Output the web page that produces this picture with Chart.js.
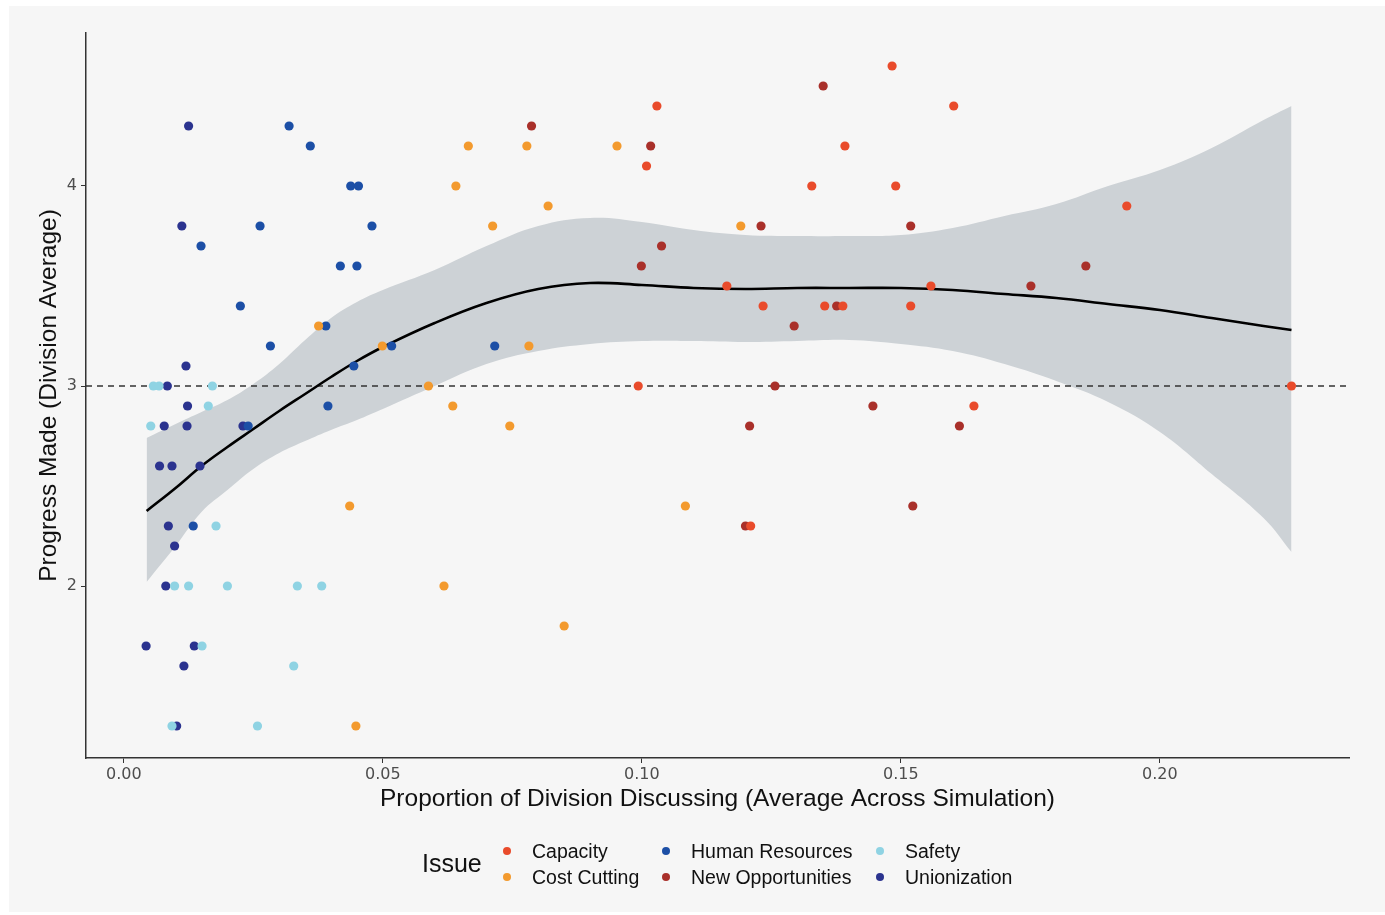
<!DOCTYPE html>
<html>
<head>
<meta charset="utf-8">
<script src="https://cdn.jsdelivr.net/npm/chart.js@4.4.1/dist/chart.umd.min.js"></script>
<style>
  html, body { margin: 0; padding: 0; background: #ffffff; }
  #panel { position: absolute; left: 9px; top: 6px; width: 1376px; height: 906px; background: #f6f6f6; }
  #chart { position: absolute; left: 0; top: 0; }
  #legend { position: absolute; left: 0; top: 0; font-family: "Liberation Sans", Arial, sans-serif; color: #111; }
  .leg-title { position: absolute; left: 422px; top: 849px; font-size: 25px; }
  .leg-item { position: absolute; font-size: 19.5px; white-space: nowrap; line-height: 22px; }
  .leg-dot { position: absolute; width: 8px; height: 8px; border-radius: 50%; }
</style>
</head>
<body>
<div id="panel"></div>
<canvas id="chart" width="1385" height="915"></canvas>
<div id="legend"></div>
<script>
// axis ranges and ticks
const xMin = -0.0073, xMax = 0.2365;
const yMin = 1.14, yMax = 4.765;
const xTicks = [0, 0.05, 0.10, 0.15, 0.20];
const yTicks = [2, 3, 4];
const refLine = 3;

// issues (legend order)
const issues = ["Capacity", "Cost Cutting", "Human Resources", "New Opportunities", "Safety", "Unionization"];
const issueColors = ["#e94b2b", "#f39a2e", "#1c4fa6", "#a9302a", "#8fd3e3", "#2b338f"];

// points, [proportion, progress]
const capacityPts = [[0.1483,4.6],[0.1029,4.4],[0.1602,4.4],[0.1392,4.2],[0.1009,4.1],[0.1328,4.0],[0.1490,4.0],
  [0.1936,3.9],[0.1164,3.5],[0.1558,3.5],[0.1234,3.4],[0.1353,3.4],[0.1388,3.4],[0.1519,3.4],[0.0993,3.0],
  [0.2254,3.0],[0.1641,2.9],[0.1210,2.3]];
const costCuttingPts = [[0.1191,3.8],[0.0665,4.2],[0.0778,4.2],[0.0952,4.2],[0.0641,4.0],[0.0819,3.9],[0.0712,3.8],
  [0.0499,3.2],[0.0782,3.2],[0.0376,3.3],[0.0588,3.0],[0.0635,2.9],[0.0745,2.8],[0.1084,2.4],[0.0436,2.4],
  [0.0618,2.0],[0.0850,1.8],[0.0448,1.3]];
const humanResPts = [[0.0319,4.3],[0.0360,4.2],[0.0438,4.0],[0.0453,4.0],[0.0263,3.8],[0.0479,3.8],[0.0149,3.7],
  [0.0418,3.6],[0.0450,3.6],[0.0225,3.4],[0.0390,3.3],[0.0283,3.2],[0.0517,3.2],[0.0716,3.2],[0.0444,3.1],
  [0.0394,2.9],[0.0240,2.8],[0.0134,2.3]];
const newOppPts = [[0.1350,4.5],[0.0787,4.3],[0.1017,4.2],[0.1230,3.8],[0.1519,3.8],[0.1038,3.7],[0.0999,3.6],
  [0.1857,3.6],[0.1751,3.5],[0.1376,3.4],[0.1294,3.3],[0.1257,3.0],[0.1446,2.9],[0.1208,2.8],[0.1613,2.8],
  [0.1523,2.4],[0.1200,2.3]];
const safetyPts = [[0.0057,3.0],[0.0068,3.0],[0.0171,3.0],[0.0163,2.9],[0.0052,2.8],[0.0178,2.3],[0.0098,2.0],
  [0.0125,2.0],[0.0200,2.0],[0.0335,2.0],[0.0382,2.0],[0.0151,1.7],[0.0328,1.6],[0.0093,1.3],[0.0258,1.3]];
const unionPts = [[0.0125,4.3],[0.0112,3.8],[0.0120,3.1],[0.0084,3.0],[0.0123,2.9],[0.0078,2.8],[0.0122,2.8],
  [0.0230,2.8],[0.0069,2.6],[0.0093,2.6],[0.0147,2.6],[0.0086,2.3],[0.0098,2.2],[0.0081,2.0],[0.0043,1.7],
  [0.0136,1.7],[0.0116,1.6],[0.0102,1.3]];
const issuePts = [capacityPts, costCuttingPts, humanResPts, newOppPts, safetyPts, unionPts];

// smoother and its confidence band
const fitX  = [0.0044,0.01,0.015,0.02,0.025,0.03,0.035,0.04,0.045,0.05,0.06,0.07,0.08,0.09,0.10,0.11,0.12,0.13,0.14,0.15,0.16,0.17,0.18,0.19,0.20,0.21,0.22,0.2254];
const fitY  = [2.375,2.49,2.60,2.695,2.785,2.875,2.96,3.045,3.125,3.195,3.315,3.415,3.485,3.515,3.505,3.49,3.485,3.49,3.49,3.49,3.48,3.46,3.44,3.41,3.38,3.34,3.30,3.28];
const fitHi = [2.74,2.81,2.87,2.93,3.01,3.11,3.23,3.34,3.42,3.48,3.58,3.70,3.80,3.84,3.82,3.78,3.755,3.75,3.75,3.755,3.79,3.85,3.91,4.00,4.08,4.19,4.33,4.40];
const fitLo = [2.02,2.20,2.37,2.48,2.585,2.665,2.725,2.78,2.83,2.885,3.00,3.11,3.175,3.21,3.225,3.225,3.22,3.225,3.23,3.21,3.175,3.11,3.025,2.92,2.77,2.56,2.34,2.17];

const toXY = (xs, ys) => xs.map((x, i) => ({x: x, y: ys[i]}));

const pointSets = issues.map((name, i) => ({
  type: "scatter",
  label: name,
  data: issuePts[i].map(p => ({x: p[0], y: p[1]})),
  backgroundColor: issueColors[i],
  borderWidth: 0,
  pointRadius: 4.6,
  pointHoverRadius: 4.6,
  order: 0
}));

const datasets = pointSets.concat([
  {
    type: "line", label: "fit", data: toXY(fitX, fitY),
    borderColor: "#000000", borderWidth: 2.6, pointRadius: 0,
    tension: 0.4, fill: false, order: 1
  },
  {
    type: "line", label: "ref", data: [{x: xMin, y: refLine}, {x: xMax, y: refLine}],
    borderColor: "#333333", borderWidth: 1.3, borderDash: [6, 5], pointRadius: 0, fill: false, order: 2
  },
  {
    type: "line", label: "hi", data: toXY(fitX, fitHi),
    borderWidth: 0, borderColor: "rgba(0,0,0,0)", pointRadius: 0,
    tension: 0.4, backgroundColor: "#cdd2d6", fill: "+1", order: 3
  },
  {
    type: "line", label: "lo", data: toXY(fitX, fitLo),
    borderWidth: 0, borderColor: "rgba(0,0,0,0)", pointRadius: 0,
    tension: 0.4, fill: false, order: 4
  }
]);

const tickFont = {family: "'DejaVu Sans', sans-serif", size: 16};
const titleFont = {family: "'Liberation Sans', Arial, sans-serif", size: 24.5};

new Chart(document.getElementById("chart"), {
  type: "scatter",
  data: {datasets: datasets},
  options: {
    responsive: false,
    animation: false,
    events: [],
    layout: {padding: {left: 26, top: 33, right: 36, bottom: 97}},
    plugins: {legend: {display: false}, tooltip: {enabled: false}},
    scales: {
      x: {
        type: "linear", min: xMin, max: xMax,
        afterBuildTicks: s => { s.ticks = xTicks.map(v => ({value: v})); },
        afterFit: s => { s.height = 60; },
        ticks: {color: "#4d4d4d", font: tickFont, padding: 2, callback: v => v.toFixed(2)},
        grid: {drawOnChartArea: false, drawTicks: true, tickLength: 5, color: "#333333"},
        border: {display: true, color: "#333333", width: 1.5},
        title: {display: true, text: "Proportion of Division Discussing (Average Across Simulation)",
          color: "#111111", font: titleFont, padding: {top: 0, bottom: 4}}
      },
      y: {
        type: "linear", min: yMin, max: yMax,
        afterBuildTicks: s => { s.ticks = yTicks.map(v => ({value: v})); },
        afterFit: s => { s.width = 60; },
        ticks: {color: "#4d4d4d", font: tickFont, padding: 4},
        grid: {drawOnChartArea: false, drawTicks: true, tickLength: 5, color: "#333333"},
        border: {display: true, color: "#333333", width: 1.5},
        title: {display: true, text: "Progress Made (Division Average)",
          color: "#111111", font: titleFont, padding: {top: 9, bottom: 0}}
      }
    }
  }
});

// legend below the plot, 3 columns x 2 rows
const legend = document.getElementById("legend");
const title = document.createElement("div");
title.className = "leg-title";
title.textContent = "Issue";
legend.appendChild(title);
const colX = [507, 666, 880];
const rowY = [851, 877];
issues.forEach((name, i) => {
  const col = Math.floor(i / 2), row = i % 2;
  const dot = document.createElement("div");
  dot.className = "leg-dot";
  dot.style.left = (colX[col] - 4) + "px";
  dot.style.top = (rowY[row] - 4) + "px";
  dot.style.background = issueColors[i];
  legend.appendChild(dot);
  const item = document.createElement("div");
  item.className = "leg-item";
  item.style.left = (colX[col] + 25) + "px";
  item.style.top = (rowY[row] - 11) + "px";
  item.textContent = name;
  legend.appendChild(item);
});
</script>
</body>
</html>
